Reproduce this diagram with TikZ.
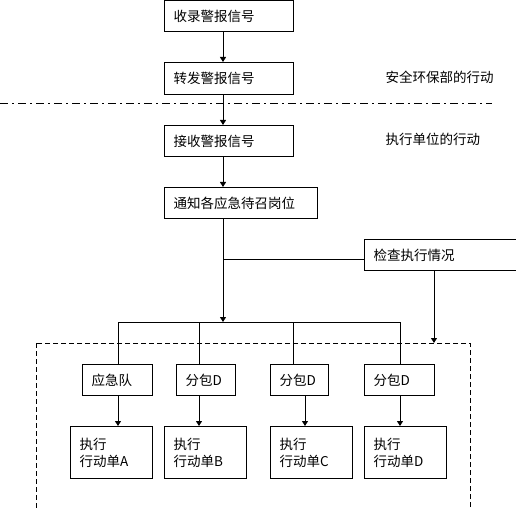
\documentclass[tikz,border=0pt]{standalone}
\usepackage{fontspec}
\newfontfamily\cjk{Noto Sans CJK SC}
\usetikzlibrary{arrows.meta}
\begin{document}
\begin{tikzpicture}[x=1pt,y=-1pt,line width=1pt,
  lbl/.style={font=\cjk\fontsize{13.5}{17}\selectfont},
  box/.style={draw,lbl,anchor=north west,inner xsep=9pt,inner ysep=0pt,align=left},
  arr/.style={-{Triangle[length=5pt,width=6pt]}},
  dashdot/.style={dash pattern=on 8pt off 4pt on 2pt off 4pt},
  dashbox/.style={dash pattern=on 5pt off 3pt}]
\useasboundingbox (0,0) rectangle (516,510);
% top boxes
\node[box,minimum width=129pt,minimum height=31pt,text width=111pt] (b1) at (164,0) {收录警报信号};
\node[box,minimum width=129pt,minimum height=32pt,text width=111pt] (b2) at (164,62) {转发警报信号};
\node[box,minimum width=129pt,minimum height=31pt,text width=111pt] (b3) at (164,125) {接收警报信号};
\node[box,minimum width=153pt,minimum height=31pt,text width=135pt] (b4) at (164,187) {通知各应急待召岗位};
\node[box,minimum width=160pt,minimum height=31pt,text width=142pt] (b5) at (364,239) {检查执行情况};
\node[lbl,anchor=west,inner sep=0pt] (t1) at (385,77) {安全环保部的行动};
\node[lbl,anchor=west,inner sep=0pt] (t2) at (385,139) {执行单位的行动};
% separator
\coordinate (sL) at (0,104);
\coordinate (sR) at (492,104);
\draw[dashdot] (sL) -- (sR);
% connectors on main column
\draw[arr] (b1.south -| 223,0) -- (b2.north -| 223,0);
\draw[arr] (b2.south -| 223,0) -- (b3.north -| 223,0);
\draw[arr] (b3.south -| 223,0) -- (b4.north -| 223,0);
\coordinate (j) at (223,260);
\coordinate (bar) at (223,322);
\draw[arr] (b4.south -| 223,0) -- (bar);
\draw (j) -- (j -| b5.west);
\coordinate (ck) at (434,343);
\draw[arr] (b5.south -| 434,0) -- (ck);
% dashed region
\coordinate (dTL) at (36,343);
\coordinate (dBR) at (470,516);
\draw[dashbox] (dTL) rectangle (dBR);
% row 1
\node[box,minimum width=70pt,minimum height=31pt,text width=52pt] (r1) at (82,364) {应急队};
\node[box,minimum width=59pt,minimum height=31pt,text width=41pt] (r2) at (176,364) {分包D};
\node[box,minimum width=58pt,minimum height=31pt,text width=40pt] (r3) at (270,364) {分包D};
\node[box,minimum width=70pt,minimum height=31pt,text width=52pt] (r4) at (364,364) {分包D};
% distribution bar
\coordinate (barL) at (118,322);
\coordinate (barR) at (400,322);
\draw (barL) -- (barR);
\draw (barL) -- (r1.north -| barL);
\draw (199,322) -- (r2.north -| 199,0);
\draw (293,322) -- (r3.north -| 293,0);
\draw (barR) -- (r4.north -| barR);
% row 2
\node[box,minimum width=82pt,minimum height=52pt,text width=64pt,anchor=north west] (a) at (70,426) {执行\\行动单A};
\node[box,minimum width=82pt,minimum height=52pt,text width=64pt] (b) at (164,426) {执行\\行动单B};
\node[box,minimum width=82pt,minimum height=52pt,text width=64pt] (c) at (270,426) {执行\\行动单C};
\node[box,minimum width=82pt,minimum height=52pt,text width=64pt] (d) at (364,426) {执行\\行动单D};
\draw[arr] (r1.south -| 118,0) -- (a.north -| 118,0);
\draw[arr] (r2.south -| 199,0) -- (b.north -| 199,0);
\draw[arr] (r3.south -| 305,0) -- (c.north -| 305,0);
\draw[arr] (r4.south -| 400,0) -- (d.north -| 400,0);
\end{tikzpicture}
\end{document}
